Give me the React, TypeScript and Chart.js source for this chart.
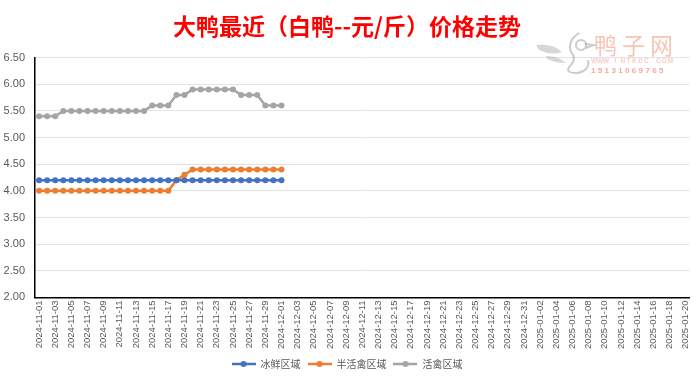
import React, { useEffect, useRef } from 'react';
import { Chart, registerables } from 'chart.js';

Chart.register(...registerables);

const dateLabels: string[] = [
  '2024-11-01', '2024-11-02', '2024-11-03', '2024-11-04', '2024-11-05', '2024-11-06', '2024-11-07', '2024-11-08', '2024-11-09', '2024-11-10',
  '2024-11-11', '2024-11-12', '2024-11-13', '2024-11-14', '2024-11-15', '2024-11-16', '2024-11-17', '2024-11-18', '2024-11-19', '2024-11-20',
  '2024-11-21', '2024-11-22', '2024-11-23', '2024-11-24', '2024-11-25', '2024-11-26', '2024-11-27', '2024-11-28', '2024-11-29', '2024-11-30',
  '2024-12-01', '2024-12-02', '2024-12-03', '2024-12-04', '2024-12-05', '2024-12-06', '2024-12-07', '2024-12-08', '2024-12-09', '2024-12-10',
  '2024-12-11', '2024-12-12', '2024-12-13', '2024-12-14', '2024-12-15', '2024-12-16', '2024-12-17', '2024-12-18', '2024-12-19', '2024-12-20',
  '2024-12-21', '2024-12-22', '2024-12-23', '2024-12-24', '2024-12-25', '2024-12-26', '2024-12-27', '2024-12-28', '2024-12-29', '2024-12-30',
  '2024-12-31', '2025-01-01', '2025-01-02', '2025-01-03', '2025-01-04', '2025-01-05', '2025-01-06', '2025-01-07', '2025-01-08', '2025-01-09',
  '2025-01-10', '2025-01-11', '2025-01-12', '2025-01-13', '2025-01-14', '2025-01-15', '2025-01-16', '2025-01-17', '2025-01-18', '2025-01-19',
  '2025-01-20',
];

const seriesNames: string[] = ['冰鲜区域', '半活禽区域', '活禽区域'];

const frozenValues: number[] = [
  4.2, 4.2, 4.2, 4.2, 4.2, 4.2, 4.2, 4.2, 4.2, 4.2,
  4.2, 4.2, 4.2, 4.2, 4.2, 4.2, 4.2, 4.2, 4.2, 4.2,
  4.2, 4.2, 4.2, 4.2, 4.2, 4.2, 4.2, 4.2, 4.2, 4.2,
  4.2,
];

const halfLiveValues: number[] = [
  4.0, 4.0, 4.0, 4.0, 4.0, 4.0, 4.0, 4.0, 4.0, 4.0,
  4.0, 4.0, 4.0, 4.0, 4.0, 4.0, 4.0, 4.2, 4.3, 4.4,
  4.4, 4.4, 4.4, 4.4, 4.4, 4.4, 4.4, 4.4, 4.4, 4.4,
  4.4,
];

const liveValues: number[] = [
  5.4, 5.4, 5.4, 5.5, 5.5, 5.5, 5.5, 5.5, 5.5, 5.5,
  5.5, 5.5, 5.5, 5.5, 5.6, 5.6, 5.6, 5.8, 5.8, 5.9,
  5.9, 5.9, 5.9, 5.9, 5.9, 5.8, 5.8, 5.8, 5.6, 5.6,
  5.6,
];

const seriesColors: string[] = ['#4472C4', '#ED7D31', '#A5A5A5'];

const TITLE = '大鸭最近（白鸭--元/斤）价格走势';
const FONT = "'Liberation Sans', 'Noto Sans CJK SC', sans-serif";
const CJK_FONT = "'Noto Sans CJK SC', 'Liberation Sans', sans-serif";

function makeLegendSymbol(color: string): HTMLCanvasElement {
  const c = document.createElement('canvas');
  c.width = 24;
  c.height = 8;
  const g = c.getContext('2d')!;
  g.strokeStyle = color;
  g.lineWidth = 2.5;
  g.beginPath();
  g.moveTo(0, 4);
  g.lineTo(24, 4);
  g.stroke();
  g.fillStyle = color;
  g.beginPath();
  g.arc(12, 4, 3, 0, Math.PI * 2);
  g.fill();
  return c;
}

function spacedText(ctx: CanvasRenderingContext2D, text: string, x: number, y: number, pitch: number) {
  for (let i = 0; i < text.length; i++) {
    ctx.fillText(text[i], x + i * pitch, y);
  }
}

const watermarkPlugin = {
  id: 'watermark',
  afterDraw(chart: any) {
    const ctx = chart.ctx as CanvasRenderingContext2D;
    ctx.save();
    // stylised duck logo
    ctx.globalAlpha = 0.5;
    ctx.strokeStyle = '#9a9a9a';
    ctx.fillStyle = '#b0b0b0';
    ctx.lineWidth = 2;
    ctx.beginPath();
    ctx.moveTo(536, 45);
    ctx.quadraticCurveTo(553, 43, 562, 52);
    ctx.quadraticCurveTo(552, 56, 539, 50);
    ctx.closePath();
    ctx.fill();
    ctx.beginPath();
    ctx.moveTo(546, 56);
    ctx.quadraticCurveTo(558, 56, 566, 63);
    ctx.quadraticCurveTo(555, 63, 547, 59);
    ctx.closePath();
    ctx.fill();
    ctx.beginPath();
    ctx.moveTo(579, 33);
    ctx.quadraticCurveTo(567, 41, 571, 52);
    ctx.quadraticCurveTo(577, 58, 571, 65);
    ctx.quadraticCurveTo(563, 73, 577, 73);
    ctx.quadraticCurveTo(590, 71, 588, 60);
    ctx.stroke();
    ctx.beginPath();
    ctx.arc(581, 45, 5, 0, Math.PI * 2);
    ctx.stroke();
    ctx.beginPath();
    ctx.moveTo(585, 44);
    ctx.lineTo(594, 45);
    ctx.lineTo(586, 48);
    ctx.stroke();
    ctx.globalAlpha = 1;
    ctx.textBaseline = 'middle';
    ctx.textAlign = 'left';
    ctx.fillStyle = '#f8c4b6';
    ctx.font = `23px ${CJK_FONT}`;
    spacedText(ctx, '鸭子网', 594, 45, 28);
    ctx.fillStyle = '#f5cfc5';
    ctx.font = `bold 6.5px ${FONT}`;
    spacedText(ctx, 'WWW.INTEDC.COM', 591, 61, 5.9);
    ctx.fillStyle = '#f4a99a';
    ctx.font = `bold 8px ${FONT}`;
    spacedText(ctx, '15131069765', 591, 71, 6.8);
    ctx.restore();
  },
};

export default function App() {
  const canvasRef = useRef<HTMLCanvasElement | null>(null);

  useEffect(() => {
    if (!canvasRef.current) return;
    const symbols = seriesColors.map(makeLegendSymbol);
    const valueSets = [frozenValues, halfLiveValues, liveValues];
    const chart = new Chart(canvasRef.current, {
      type: 'line',
      data: {
        labels: dateLabels,
        datasets: seriesNames.map((name, i) => ({
          label: name,
          data: valueSets[i],
          borderColor: seriesColors[i],
          backgroundColor: seriesColors[i],
          borderWidth: 2.5,
          pointRadius: 3,
          pointBorderWidth: 0,
          pointHoverRadius: 3,
          tension: 0,
          fill: false,
        })),
      },
      options: {
        responsive: false,
        animation: false,
        layout: { padding: { left: 2, right: 8, top: 4, bottom: 0 } },
        plugins: {
          title: {
            display: true,
            text: TITLE,
            color: '#FF0000',
            font: { family: CJK_FONT, size: 23, weight: 'bold' },
            padding: { top: 8, bottom: 18 },
          },
          legend: {
            position: 'bottom',
            labels: {
              usePointStyle: true,
              pointStyleWidth: 24,
              color: '#595959',
              font: { family: CJK_FONT, size: 10 },
              padding: 7,
              generateLabels(chart: any) {
                const items = Chart.defaults.plugins.legend.labels.generateLabels(chart);
                items.forEach((it: any, i: number) => {
                  it.pointStyle = symbols[i];
                });
                return items;
              },
            },
          },
          tooltip: { enabled: false },
        },
        scales: {
          x: {
            offset: true,
            grid: { display: false, drawTicks: false },
            border: { display: true, color: '#000000', width: 1.5 },
            ticks: {
              autoSkip: false,
              minRotation: 90,
              maxRotation: 90,
              padding: 3,
              color: '#595959',
              font: { family: FONT, size: 9.5 },
              callback(_v: any, idx: number) {
                return idx % 2 === 0 ? dateLabels[idx] : '';
              },
            },
          },
          y: {
            min: 2,
            max: 6.5,
            afterFit(scale: any) {
              scale.width = 33;
            },
            grid: { color: '#e3e3e3', drawTicks: false, lineWidth: 1 },
            border: { display: true, color: '#000000', width: 1.5 },
            ticks: {
              stepSize: 0.5,
              padding: 10,
              color: '#595959',
              font: { family: FONT, size: 11 },
              callback(v: any) {
                return Number(v).toFixed(2);
              },
            },
          },
        },
      },
      plugins: [watermarkPlugin],
    });
    return () => chart.destroy();
  }, []);

  return (
    <div style={{ position: 'fixed', left: 0, top: 0, width: 700, height: 379, background: '#fff' }}>
      <canvas ref={canvasRef} width={700} height={379} style={{ width: 700, height: 379 }} />
    </div>
  );
}
